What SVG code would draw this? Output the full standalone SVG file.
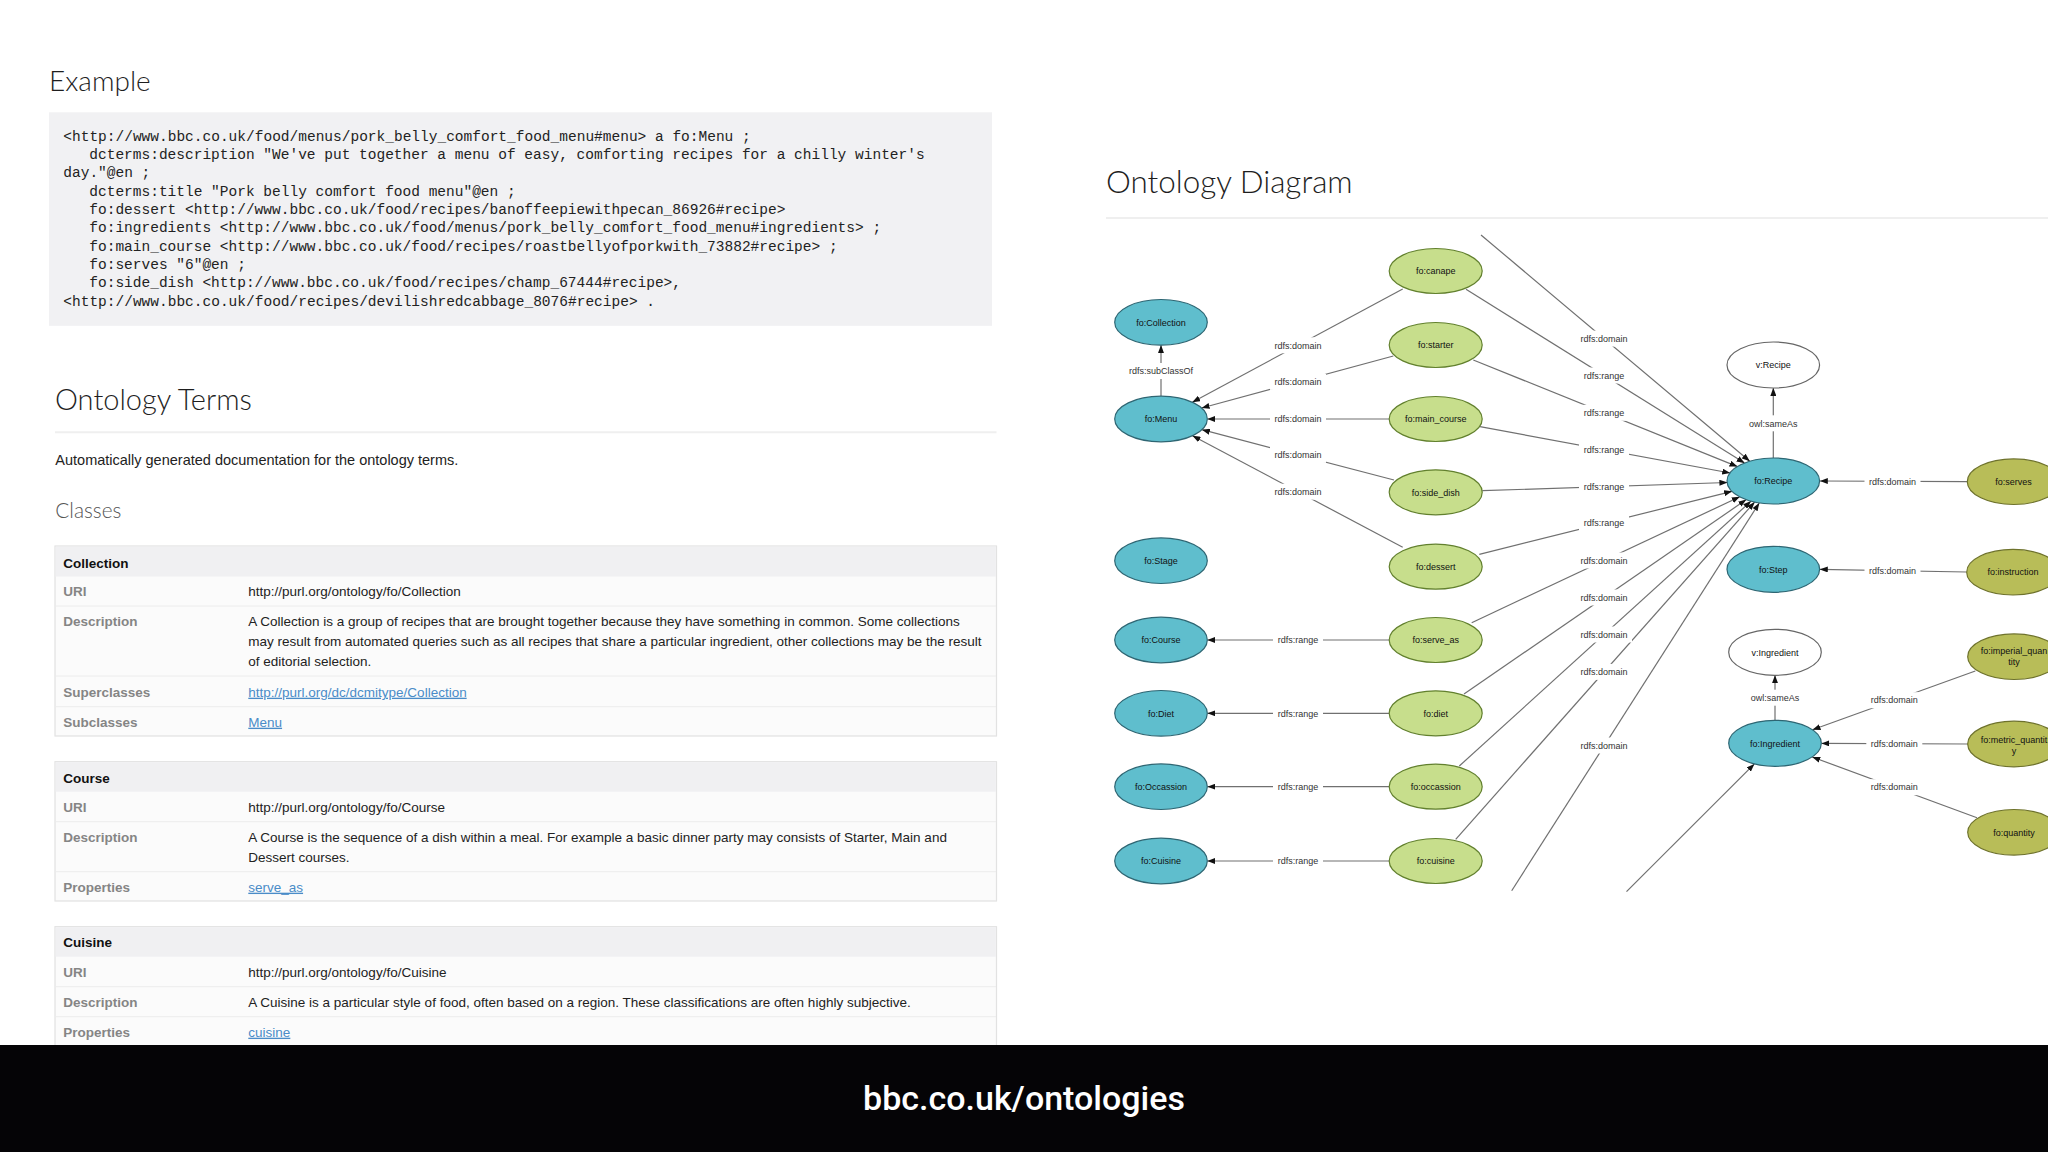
<svg xmlns="http://www.w3.org/2000/svg" width="2048" height="1152" viewBox="0 0 2048 1152">
<defs>
<marker id="arr" viewBox="0 0 8 6" refX="8" refY="3" markerWidth="8" markerHeight="6" markerUnits="userSpaceOnUse" orient="auto">
<path d="M0,0 L8,3 L0,6 z" fill="#111"/>
</marker>
</defs>
<style>
.h{font-family:Lato,"Liberation Sans",sans-serif;font-weight:300;fill:#1e1e1e}
.code{font-family:"Liberation Mono","Courier New",monospace;font-size:14.5px;fill:#222}
.p{font-family:"Liberation Sans",Arial,sans-serif;font-size:13.5px;fill:#222}
.th{font-family:"Liberation Sans",Arial,sans-serif;font-size:13.5px;font-weight:bold;fill:#111}
.k{font-family:"Liberation Sans",Arial,sans-serif;font-size:13.5px;font-weight:bold;fill:#858585}
.a{font-family:"Liberation Sans",Arial,sans-serif;font-size:13.5px;fill:#4a8cc8;text-decoration:underline}
.tbl{fill:#fbfbfb;stroke:#e2e2e2;stroke-width:1.2}
.thead{fill:#f0f0f2}
.sep{stroke:#ececec;stroke-width:1}
.e{stroke:#707070;stroke-width:1.2;fill:none;marker-end:url(#arr)}
.lb{fill:#fff}
.lt{font-family:"Liberation Sans",Arial,sans-serif;font-size:9px;fill:#333;text-anchor:middle}
.nt{font-family:"Liberation Sans",Arial,sans-serif;font-size:9px;fill:#111;text-anchor:middle}
.blue{fill:#5fbecd;stroke:#2e6673;stroke-width:1.2}
.green{fill:#c7de8c;stroke:#62802e;stroke-width:1.2}
.olive{fill:#b8bd58;stroke:#6e722c;stroke-width:1.2}
.white{fill:#fff;stroke:#666;stroke-width:1.2}
</style>
<rect x="0" y="0" width="2048" height="1152" fill="#fff"/>

<!-- Left documentation panel -->
<g id="example">
<text class="h" x="49" y="90.7" font-size="28">Example</text>
<rect x="49" y="112.3" width="943" height="213.5" fill="#f1f1f3"/>
<text class="code" x="63.3" y="140.7">&lt;http://www.bbc.co.uk/food/menus/pork_belly_comfort_food_menu#menu&gt; a fo:Menu ;</text>
<text class="code" x="89.3" y="159">dcterms:description "We've put together a menu of easy, comforting recipes for a chilly winter's</text>
<text class="code" x="63.3" y="177.3">day."@en ;</text>
<text class="code" x="89.3" y="195.7">dcterms:title "Pork belly comfort food menu"@en ;</text>
<text class="code" x="89.3" y="214">fo:dessert &lt;http://www.bbc.co.uk/food/recipes/banoffeepiewithpecan_86926#recipe&gt;</text>
<text class="code" x="89.3" y="232.3">fo:ingredients &lt;http://www.bbc.co.uk/food/menus/pork_belly_comfort_food_menu#ingredients&gt; ;</text>
<text class="code" x="89.3" y="250.7">fo:main_course &lt;http://www.bbc.co.uk/food/recipes/roastbellyofporkwith_73882#recipe&gt; ;</text>
<text class="code" x="89.3" y="269">fo:serves "6"@en ;</text>
<text class="code" x="89.3" y="287.3">fo:side_dish &lt;http://www.bbc.co.uk/food/recipes/champ_67444#recipe&gt;,</text>
<text class="code" x="63.3" y="305.7">&lt;http://www.bbc.co.uk/food/recipes/devilishredcabbage_8076#recipe&gt; .</text>
</g>

<g id="terms">
<text class="h" x="55" y="410" font-size="29">Ontology Terms</text>
<line x1="55" y1="432.3" x2="996.5" y2="432.3" stroke="#efefef" stroke-width="2"/>
<text class="p" x="55.3" y="465" style="font-size:14.5px">Automatically generated documentation for the ontology terms.</text>
<text class="h" x="55.3" y="518.3" font-size="20.8" style="fill:#555">Classes</text>
</g>

<g id="table-collection">
<rect class="tbl" x="55" y="546" width="941.5" height="190"/>
<rect class="thead" x="55.6" y="546.6" width="940.3" height="30"/>
<text class="th" x="63.3" y="567.7">Collection</text>
<text class="k" x="63.3" y="596">URI</text>
<text class="p" x="248.3" y="596">http://purl.org/ontology/fo/Collection</text>
<line class="sep" x1="55.6" y1="606" x2="996" y2="606"/>
<text class="k" x="63.3" y="626">Description</text>
<text class="p" x="248.3" y="626">A Collection is a group of recipes that are brought together because they have something in common. Some collections</text>
<text class="p" x="248.3" y="646.3">may result from automated queries such as all recipes that share a particular ingredient, other collections may be the result</text>
<text class="p" x="248.3" y="666.3">of editorial selection.</text>
<line class="sep" x1="55.6" y1="676" x2="996" y2="676"/>
<text class="k" x="63.3" y="696.7">Superclasses</text>
<text class="a" x="248.3" y="696.7">http://purl.org/dc/dcmitype/Collection</text>
<line class="sep" x1="55.6" y1="706.7" x2="996" y2="706.7"/>
<text class="k" x="63.3" y="726.7">Subclasses</text>
<text class="a" x="248.3" y="726.7">Menu</text>
</g>

<g id="table-course">
<rect class="tbl" x="55" y="761.7" width="941.5" height="139.3"/>
<rect class="thead" x="55.6" y="762.3" width="940.3" height="29.4"/>
<text class="th" x="63.3" y="782.7">Course</text>
<text class="k" x="63.3" y="811.7">URI</text>
<text class="p" x="248.3" y="811.7">http://purl.org/ontology/fo/Course</text>
<line class="sep" x1="55.6" y1="821.7" x2="996" y2="821.7"/>
<text class="k" x="63.3" y="841.7">Description</text>
<text class="p" x="248.3" y="841.7">A Course is the sequence of a dish within a meal. For example a basic dinner party may consists of Starter, Main and</text>
<text class="p" x="248.3" y="861.7">Dessert courses.</text>
<line class="sep" x1="55.6" y1="871.7" x2="996" y2="871.7"/>
<text class="k" x="63.3" y="891.7">Properties</text>
<text class="a" x="248.3" y="891.7">serve_as</text>
</g>

<g id="table-cuisine">
<rect class="tbl" x="55" y="926.7" width="941.5" height="140"/>
<rect class="thead" x="55.6" y="927.3" width="940.3" height="29.4"/>
<text class="th" x="63.3" y="947.3">Cuisine</text>
<text class="k" x="63.3" y="976.7">URI</text>
<text class="p" x="248.3" y="976.7">http://purl.org/ontology/fo/Cuisine</text>
<line class="sep" x1="55.6" y1="986.7" x2="996" y2="986.7"/>
<text class="k" x="63.3" y="1006.7">Description</text>
<text class="p" x="248.3" y="1006.7">A Cuisine is a particular style of food, often based on a region. These classifications are often highly subjective.</text>
<line class="sep" x1="55.6" y1="1016.7" x2="996" y2="1016.7"/>
<text class="k" x="63.3" y="1036.7">Properties</text>
<text class="a" x="248.3" y="1036.7">cuisine</text>
</g>

<!-- Ontology diagram -->
<g id="diagram-title">
<text class="h" x="1106" y="193" font-size="31.4">Ontology Diagram</text>
<line x1="1106" y1="218" x2="2048" y2="218" stroke="#efefef" stroke-width="2"/>
</g>

<g id="connectors">
<path class="e" d="M1402.7,289 L1192.3,402.2"/>
<path class="e" d="M1393.3,356 L1201.6,408"/>
<path class="e" d="M1389.2,419 L1207.3,419"/>
<path class="e" d="M1394,480 L1201.9,429.7"/>
<path class="e" d="M1402.7,547.3 L1192.5,435.7"/>
<path class="e" d="M1161,396.2 L1161,345.1"/>
<path class="e" d="M1389.2,640 L1207.3,640"/>
<path class="e" d="M1389.2,713.3 L1207.3,713.3"/>
<path class="e" d="M1389.2,786.7 L1207.3,786.7"/>
<path class="e" d="M1389.2,861 L1207.3,861"/>

<path class="e" d="M1481,235 L1749.8,461.2"/>
<path class="e" d="M1466,289.3 L1744.6,463.1"/>
<path class="e" d="M1473.3,360 L1737.5,466.6"/>
<path class="e" d="M1480,426.7 L1730.2,473"/>
<path class="e" d="M1482.3,490.7 L1727.4,482.5"/>
<path class="e" d="M1479.3,554.3 L1732.1,491.3"/>
<path class="e" d="M1471.7,622.7 L1739.8,496.8"/>
<path class="e" d="M1464,694 L1746.3,499.6"/>
<path class="e" d="M1459.3,766 L1751.1,501.1"/>
<path class="e" d="M1455.7,839.3 L1754.7,502"/>
<path class="e" d="M1511.7,890.7 L1759.3,502.9"/>

<path class="e" d="M1967.3,481.7 L1819.8,481"/>
<path class="e" d="M1966.6,572 L1819.8,569.3"/>
<path class="e" d="M1773.3,458.2 L1773.3,387.9"/>
<path class="e" d="M1975.3,671 L1812.5,729.8"/>
<path class="e" d="M1968.3,744 L1821.5,743.4"/>
<path class="e" d="M1977,817.7 L1812.2,757"/>
<path class="e" d="M1626.5,891.7 L1754.4,763.9"/>
<path class="e" d="M1775,720.5 L1775,675.2"/>

<g id="edge-labels">
<rect class="lb" x="1270" y="337.3" width="56" height="16"/><text class="lt" x="1298" y="348.5">rdfs:domain</text>
<rect class="lb" x="1270" y="373.9" width="56" height="16"/><text class="lt" x="1298" y="385.1">rdfs:domain</text>
<rect class="lb" x="1270" y="411" width="56" height="16"/><text class="lt" x="1298" y="422.2">rdfs:domain</text>
<rect class="lb" x="1270" y="446.9" width="56" height="16"/><text class="lt" x="1298" y="458.1">rdfs:domain</text>
<rect class="lb" x="1270" y="483.7" width="56" height="16"/><text class="lt" x="1298" y="494.9">rdfs:domain</text>
<rect class="lb" x="1126" y="363" width="70" height="16"/><text class="lt" x="1161" y="374.2">rdfs:subClassOf</text>
<rect class="lb" x="1273" y="632" width="50" height="16"/><text class="lt" x="1298" y="643.2">rdfs:range</text>
<rect class="lb" x="1273" y="705.3" width="50" height="16"/><text class="lt" x="1298" y="716.5">rdfs:range</text>
<rect class="lb" x="1273" y="778.7" width="50" height="16"/><text class="lt" x="1298" y="789.9">rdfs:range</text>
<rect class="lb" x="1273" y="853" width="50" height="16"/><text class="lt" x="1298" y="864.2">rdfs:range</text>

<rect class="lb" x="1576" y="330.6" width="56" height="16"/><text class="lt" x="1604" y="341.8">rdfs:domain</text>
<rect class="lb" x="1579" y="367.5" width="50" height="16"/><text class="lt" x="1604" y="378.7">rdfs:range</text>
<rect class="lb" x="1579" y="404.8" width="50" height="16"/><text class="lt" x="1604" y="416">rdfs:range</text>
<rect class="lb" x="1579" y="441.7" width="50" height="16"/><text class="lt" x="1604" y="452.9">rdfs:range</text>
<rect class="lb" x="1579" y="478.6" width="50" height="16"/><text class="lt" x="1604" y="489.8">rdfs:range</text>
<rect class="lb" x="1579" y="515.2" width="50" height="16"/><text class="lt" x="1604" y="526.4">rdfs:range</text>
<rect class="lb" x="1576" y="552.5" width="56" height="16"/><text class="lt" x="1604" y="563.7">rdfs:domain</text>
<rect class="lb" x="1576" y="589.5" width="56" height="16"/><text class="lt" x="1604" y="600.7">rdfs:domain</text>
<rect class="lb" x="1576" y="626.5" width="56" height="16"/><text class="lt" x="1604" y="637.7">rdfs:domain</text>
<rect class="lb" x="1576" y="663.9" width="56" height="16"/><text class="lt" x="1604" y="675.1">rdfs:domain</text>
<rect class="lb" x="1576" y="737.5" width="56" height="16"/><text class="lt" x="1604" y="748.7">rdfs:domain</text>

<rect class="lb" x="1864.5" y="473.5" width="56" height="16"/><text class="lt" x="1892.5" y="484.7">rdfs:domain</text>
<rect class="lb" x="1864.5" y="562.8" width="56" height="16"/><text class="lt" x="1892.5" y="574">rdfs:domain</text>
<rect class="lb" x="1745.3" y="415.3" width="56" height="16"/><text class="lt" x="1773.3" y="426.5">owl:sameAs</text>
<rect class="lb" x="1866.3" y="692.2" width="56" height="16"/><text class="lt" x="1894.3" y="703.4">rdfs:domain</text>
<rect class="lb" x="1866.3" y="735.8" width="56" height="16"/><text class="lt" x="1894.3" y="747">rdfs:domain</text>
<rect class="lb" x="1866.3" y="779.2" width="56" height="16"/><text class="lt" x="1894.3" y="790.4">rdfs:domain</text>
<rect class="lb" x="1747" y="689.7" width="56" height="16"/><text class="lt" x="1775" y="700.9">owl:sameAs</text>
</g>
</g>

<g id="node-collection"><ellipse class="blue" cx="1161" cy="322.3" rx="46.3" ry="22.8"/><text class="nt" x="1161" y="325.5">fo:Collection</text></g>
<g id="node-menu"><ellipse class="blue" cx="1161" cy="419" rx="46.3" ry="22.8"/><text class="nt" x="1161" y="422.2">fo:Menu</text></g>
<g id="node-stage"><ellipse class="blue" cx="1161" cy="560.7" rx="46.3" ry="22.8"/><text class="nt" x="1161" y="563.9">fo:Stage</text></g>
<g id="node-course"><ellipse class="blue" cx="1161" cy="640" rx="46.3" ry="22.8"/><text class="nt" x="1161" y="643.2">fo:Course</text></g>
<g id="node-diet-class"><ellipse class="blue" cx="1161" cy="713.3" rx="46.3" ry="22.8"/><text class="nt" x="1161" y="716.5">fo:Diet</text></g>
<g id="node-occassion-class"><ellipse class="blue" cx="1161" cy="786.7" rx="46.3" ry="22.8"/><text class="nt" x="1161" y="789.9">fo:Occassion</text></g>
<g id="node-cuisine-class"><ellipse class="blue" cx="1161" cy="861" rx="46.3" ry="22.8"/><text class="nt" x="1161" y="864.2">fo:Cuisine</text></g>

<g id="node-canape"><ellipse class="green" cx="1435.7" cy="271" rx="46.5" ry="22.5"/><text class="nt" x="1435.7" y="274.2">fo:canape</text></g>
<g id="node-starter"><ellipse class="green" cx="1435.7" cy="345" rx="46.5" ry="22.5"/><text class="nt" x="1435.7" y="348.2">fo:starter</text></g>
<g id="node-main-course"><ellipse class="green" cx="1435.7" cy="419" rx="46.5" ry="22.5"/><text class="nt" x="1435.7" y="422.2">fo:main_course</text></g>
<g id="node-side-dish"><ellipse class="green" cx="1435.7" cy="492.3" rx="46.5" ry="22.5"/><text class="nt" x="1435.7" y="495.5">fo:side_dish</text></g>
<g id="node-dessert"><ellipse class="green" cx="1435.7" cy="566.7" rx="46.5" ry="22.5"/><text class="nt" x="1435.7" y="569.9">fo:dessert</text></g>
<g id="node-serve-as"><ellipse class="green" cx="1435.7" cy="640" rx="46.5" ry="22.5"/><text class="nt" x="1435.7" y="643.2">fo:serve_as</text></g>
<g id="node-diet"><ellipse class="green" cx="1435.7" cy="713.3" rx="46.5" ry="22.5"/><text class="nt" x="1435.7" y="716.5">fo:diet</text></g>
<g id="node-occassion"><ellipse class="green" cx="1435.7" cy="786.7" rx="46.5" ry="22.5"/><text class="nt" x="1435.7" y="789.9">fo:occassion</text></g>
<g id="node-cuisine"><ellipse class="green" cx="1435.7" cy="861" rx="46.5" ry="22.5"/><text class="nt" x="1435.7" y="864.2">fo:cuisine</text></g>

<g id="node-v-recipe"><ellipse class="white" cx="1773.3" cy="365" rx="46.3" ry="23"/><text class="nt" x="1773.3" y="368.2">v:Recipe</text></g>
<g id="node-recipe"><ellipse class="blue" cx="1773.3" cy="481" rx="46.3" ry="23"/><text class="nt" x="1773.3" y="484.2">fo:Recipe</text></g>
<g id="node-step"><ellipse class="blue" cx="1773.3" cy="569.3" rx="46.3" ry="23"/><text class="nt" x="1773.3" y="572.5">fo:Step</text></g>
<g id="node-v-ingredient"><ellipse class="white" cx="1775" cy="652.3" rx="46.3" ry="23"/><text class="nt" x="1775" y="655.5">v:Ingredient</text></g>
<g id="node-ingredient"><ellipse class="blue" cx="1775" cy="743.3" rx="46.3" ry="23"/><text class="nt" x="1775" y="746.5">fo:Ingredient</text></g>

<g id="node-serves"><ellipse class="olive" cx="2013.6" cy="481.7" rx="46.3" ry="22.8"/><text class="nt" x="2013.6" y="484.9">fo:serves</text></g>
<g id="node-instruction"><ellipse class="olive" cx="2013" cy="572.2" rx="46.3" ry="22.8"/><text class="nt" x="2013" y="575.4">fo:instruction</text></g>
<g id="node-imperial-quantity"><ellipse class="olive" cx="2014" cy="656.7" rx="46.3" ry="22.8"/><text class="nt" x="2014" y="654">fo:imperial_quan</text><text class="nt" x="2014" y="665">tity</text></g>
<g id="node-metric-quantity"><ellipse class="olive" cx="2014" cy="744" rx="46.3" ry="22.8"/><text class="nt" x="2014" y="743">fo:metric_quantit</text><text class="nt" x="2014" y="754">y</text></g>
<g id="node-quantity"><ellipse class="olive" cx="2014" cy="832.3" rx="46.3" ry="22.8"/><text class="nt" x="2014" y="835.5">fo:quantity</text></g>

<g id="footer">
<rect x="0" y="1045" width="2048" height="107" fill="#050406"/>
<text x="1024" y="1110" text-anchor="middle" font-family="Roboto,'Liberation Sans',sans-serif" font-weight="500" font-size="34" fill="#fff">bbc.co.uk/ontologies</text>
</g>
</svg>
